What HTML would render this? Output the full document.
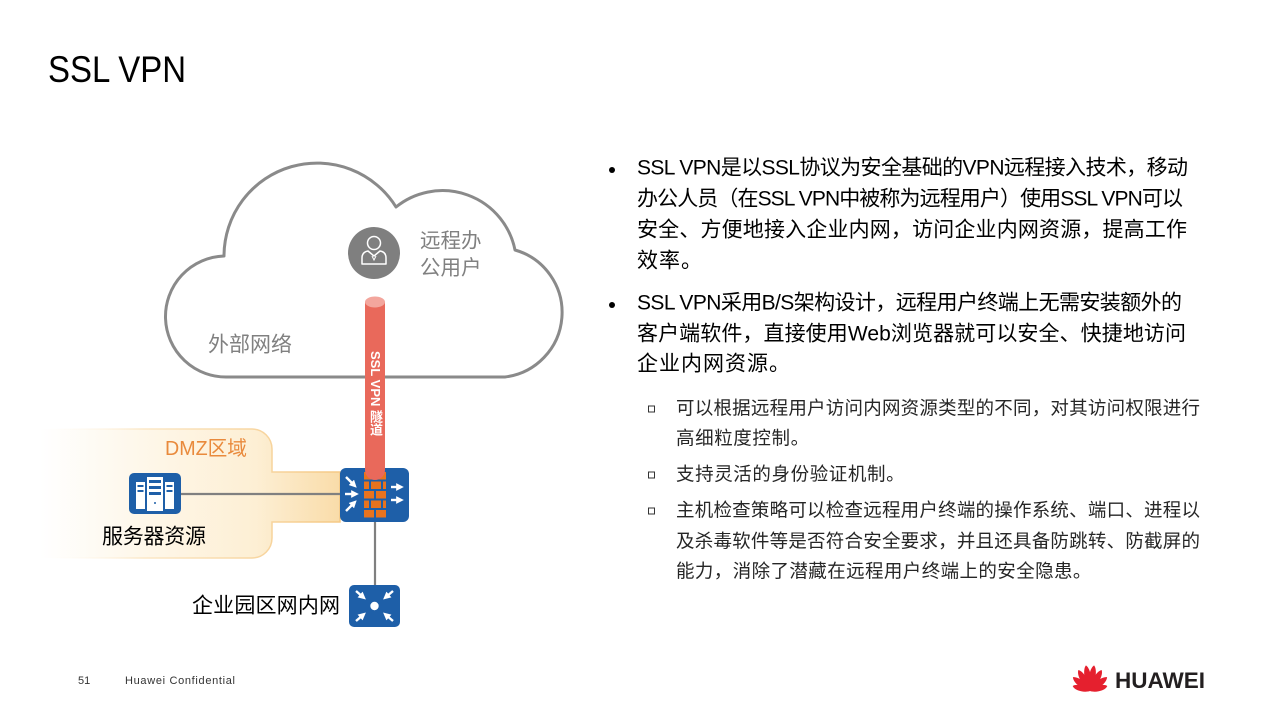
<!DOCTYPE html>
<html>
<head>
<meta charset="utf-8">
<style>
  html,body{margin:0;padding:0;background:#fff;}
  body{width:1280px;height:720px;overflow:hidden;position:relative;}
  svg{position:absolute;left:0;top:0;}
  .cjk{font-family:"Liberation Sans","Noto Sans CJK SC",sans-serif;}
  #tun{position:absolute;left:365px;top:351px;width:20px;line-height:20px;writing-mode:vertical-rl;
       font-family:"Liberation Sans","Noto Sans CJK SC",sans-serif;font-weight:bold;font-size:13px;color:#fff;text-align:start;white-space:nowrap;}
</style>
</head>
<body>
<svg width="1280" height="720" viewBox="0 0 1280 720" xmlns="http://www.w3.org/2000/svg">
  <defs>
    <linearGradient id="dmzFill" gradientUnits="userSpaceOnUse" x1="40" y1="0" x2="340" y2="0">
      <stop offset="0" stop-color="#ffffff"/>
      <stop offset="0.3" stop-color="#FEF8EC"/>
      <stop offset="0.72" stop-color="#FDEFD4"/>
      <stop offset="1" stop-color="#F9DCA9"/>
    </linearGradient>
    <linearGradient id="dmzStroke" gradientUnits="userSpaceOnUse" x1="40" y1="0" x2="340" y2="0">
      <stop offset="0" stop-color="#ffffff" stop-opacity="0"/>
      <stop offset="0.35" stop-color="#FBE7C6"/>
      <stop offset="1" stop-color="#F5C985"/>
    </linearGradient>
    <clipPath id="userClip"><rect x="400" y="220" width="84" height="70"/></clipPath>
    <marker id="ah" viewBox="0 0 10 10" refX="5" refY="5" markerWidth="3.2" markerHeight="3.2" orient="auto">
      <path d="M0,0 L10,5 L0,10 Z" fill="#fff"/>
    </marker>
  </defs>

  <!-- Title -->
  <text x="48" y="82" font-family="Liberation Sans, sans-serif" font-size="37" fill="#000" textLength="138" lengthAdjust="spacingAndGlyphs">SSL VPN</text>

  <!-- DMZ zone -->
  <path d="M40 429 H252 A20 20 0 0 1 272 449 V472 H340 V522 H272 V538 A20 20 0 0 1 252 558 H40 Z"
        fill="url(#dmzFill)" stroke="url(#dmzStroke)" stroke-width="1.5"/>

  <!-- Cloud -->
  <path d="M228 377 A60 60 0 0 1 224 256 A93 93 0 0 1 396 207 A74 74 0 0 1 515 250 A65 65 0 0 1 505 377 Z"
        fill="#fff" stroke="#8a8a8a" stroke-width="3" stroke-linejoin="round"/>

  <!-- cloud labels -->
  <text class="cjk" x="208" y="345" font-size="21" fill="#808080" dominant-baseline="central">外部网络</text>
  <g clip-path="url(#userClip)">
    <text class="cjk" x="420" y="241" font-size="20.5" fill="#808080" dominant-baseline="central">远程办</text>
    <text class="cjk" x="420" y="268" font-size="20.5" fill="#808080" dominant-baseline="central">公用户</text>
  </g>

  <!-- user icon -->
  <circle cx="374" cy="253" r="26" fill="#7f7f7f"/>
  <circle cx="374" cy="243" r="6.5" fill="none" stroke="#fff" stroke-width="1.5"/>
  <path d="M362 264 V258 Q362 252 368 251 L374 256 L380 251 Q386 252 386 258 V264 Z" fill="none" stroke="#fff" stroke-width="1.5" stroke-linejoin="round"/>
  <path d="M372 256 L374 260 L376 256" fill="none" stroke="#fff" stroke-width="1"/>

  <!-- connectors -->
  <line x1="181" y1="494" x2="340" y2="494" stroke="#808080" stroke-width="2.2"/>
  <line x1="375" y1="522" x2="375" y2="586" stroke="#808080" stroke-width="2.2"/>

  <!-- server icon -->
  <rect x="129" y="473" width="52" height="41" rx="5" fill="#1E5FA8"/>
  <rect x="147" y="477" width="16" height="34" fill="#fff"/>
  <rect x="149" y="480" width="12" height="3" fill="#1E5FA8"/>
  <rect x="149" y="486" width="12" height="3" fill="#1E5FA8"/>
  <rect x="149" y="492" width="12" height="3" fill="#1E5FA8"/>
  <rect x="136" y="482" width="9" height="27" fill="#fff"/>
  <rect x="137.5" y="485" width="6" height="2" fill="#1E5FA8"/>
  <rect x="137.5" y="490" width="6" height="2" fill="#1E5FA8"/>
  <rect x="165" y="482" width="9" height="27" fill="#fff"/>
  <rect x="166.5" y="485" width="6" height="2" fill="#1E5FA8"/>
  <rect x="166.5" y="490" width="6" height="2" fill="#1E5FA8"/>
  <circle cx="155" cy="503" r="1" fill="#1E5FA8"/>

  <!-- firewall -->
  <rect x="340" y="468" width="69" height="54" rx="6" fill="#1E5FA8"/>
  <g fill="#E8731E">
    <rect x="364" y="472" width="10" height="7.5"/><rect x="376" y="472" width="10" height="7.5"/>
    <rect x="364" y="481.5" width="5" height="7.5"/><rect x="371" y="481.5" width="10" height="7.5"/><rect x="383" y="481.5" width="3" height="7.5"/>
    <rect x="364" y="491" width="10" height="7.5"/><rect x="376" y="491" width="10" height="7.5"/>
    <rect x="364" y="500.5" width="5" height="7.5"/><rect x="371" y="500.5" width="10" height="7.5"/><rect x="383" y="500.5" width="3" height="7.5"/>
    <rect x="364" y="510" width="10" height="7.5"/><rect x="376" y="510" width="10" height="7.5"/>
  </g>
  <g stroke="#fff" stroke-width="2.4" marker-end="url(#ah)">
    <line x1="346" y1="477" x2="354" y2="485"/>
    <line x1="345" y1="494" x2="355" y2="494"/>
    <line x1="346" y1="511" x2="354" y2="503"/>
    <line x1="391" y1="487" x2="400" y2="487"/>
    <line x1="391" y1="500" x2="400" y2="500"/>
  </g>

  <!-- tunnel -->
  <path d="M365 302 V470 A10 10 0 0 0 385 470 V302 Z" fill="#E9695B"/>
  <ellipse cx="375" cy="302" rx="10" ry="5.5" fill="#F3A69D"/>

  <!-- switch -->
  <rect x="349" y="585" width="51" height="42" rx="5" fill="#1E5FA8"/>
  <circle cx="374.5" cy="606" r="4.2" fill="#fff"/>
  <g stroke="#fff" stroke-width="2.4" marker-end="url(#ah)">
    <line x1="356" y1="591" x2="363" y2="597"/>
    <line x1="393" y1="591" x2="386" y2="597"/>
    <line x1="356" y1="621" x2="363" y2="615"/>
    <line x1="393" y1="621" x2="386" y2="615"/>
  </g>

  <!-- DMZ labels -->
  <text class="cjk" x="165" y="449" font-size="20" fill="#E98A3C" dominant-baseline="central" textLength="82" lengthAdjust="spacingAndGlyphs">DMZ区域</text>
  <text class="cjk" x="102" y="537" font-size="21" fill="#000" dominant-baseline="central" textLength="104" lengthAdjust="spacing">服务器资源</text>
  <text class="cjk" x="192" y="606" font-size="21" fill="#000" dominant-baseline="central" textLength="148" lengthAdjust="spacing">企业园区网内网</text>

  <!-- Right text -->
  <g class="cjk" font-size="21" fill="#000" dominant-baseline="central">
    <circle cx="612" cy="170" r="3" fill="#000"/>
    <text x="637" y="168" textLength="551" lengthAdjust="spacing">SSL VPN是以SSL协议为安全基础的VPN远程接入技术，移动</text>
    <text x="637" y="199" textLength="546" lengthAdjust="spacing">办公人员（在SSL VPN中被称为远程用户）使用SSL  VPN可以</text>
    <text x="637" y="230" textLength="550" lengthAdjust="spacing">安全、方便地接入企业内网，访问企业内网资源，提高工作</text>
    <text x="637" y="261" letter-spacing="1">效率。</text>
    <circle cx="612" cy="305" r="3" fill="#000"/>
    <text x="637" y="303" textLength="545" lengthAdjust="spacing">SSL VPN采用B/S架构设计，远程用户终端上无需安装额外的</text>
    <text x="637" y="334" textLength="549" lengthAdjust="spacing">客户端软件，直接使用Web浏览器就可以安全、快捷地访问</text>
    <text x="637" y="364" letter-spacing="1">企业内网资源。</text>
  </g>
  <g class="cjk" font-size="18.5" fill="#262626" dominant-baseline="central">
    <rect x="648.5" y="406" width="6" height="6" fill="none" stroke="#333" stroke-width="1"/>
    <text x="676" y="408" textLength="524" lengthAdjust="spacing">可以根据远程用户访问内网资源类型的不同，对其访问权限进行</text>
    <text x="676" y="438" letter-spacing="0.6">高细粒度控制。</text>
    <rect x="648.5" y="472" width="6" height="6" fill="none" stroke="#333" stroke-width="1"/>
    <text x="676" y="474" letter-spacing="0.6">支持灵活的身份验证机制。</text>
    <rect x="648.5" y="508" width="6" height="6" fill="none" stroke="#333" stroke-width="1"/>
    <text x="676" y="510" textLength="524" lengthAdjust="spacing">主机检查策略可以检查远程用户终端的操作系统、端口、进程以</text>
    <text x="676" y="541" textLength="524" lengthAdjust="spacing">及杀毒软件等是否符合安全要求，并且还具备防跳转、防截屏的</text>
    <text x="676" y="571" letter-spacing="0.4">能力，消除了潜藏在远程用户终端上的安全隐患。</text>
  </g>

  <!-- Footer -->
  <text x="78" y="684" font-family="Liberation Sans, sans-serif" font-size="11" fill="#333">51</text>
  <text x="125" y="684" font-family="Liberation Sans, sans-serif" font-size="11" fill="#333" textLength="110" lengthAdjust="spacing">Huawei Confidential</text>

  <!-- Huawei logo -->
  <g fill="#E5202E">
    <path d="M0 0 C-4 -8 -4.5 -22 0 -26 C4.5 -22 4 -8 0 0 Z" transform="translate(1090,691) rotate(-9)"/>
    <path d="M0 0 C-4 -8 -4.5 -22 0 -26 C4.5 -22 4 -8 0 0 Z" transform="translate(1090,691) rotate(9)"/>
    <path d="M0 0 C-4 -7 -4.5 -20 0 -24 C4.5 -20 4 -7 0 0 Z" transform="translate(1090,691) rotate(-29)"/>
    <path d="M0 0 C-4 -7 -4.5 -20 0 -24 C4.5 -20 4 -7 0 0 Z" transform="translate(1090,691) rotate(29)"/>
    <path d="M0 0 C-4 -6 -4.5 -18 0 -22 C4.5 -18 4 -6 0 0 Z" transform="translate(1090,691) rotate(-51)"/>
    <path d="M0 0 C-4 -6 -4.5 -18 0 -22 C4.5 -18 4 -6 0 0 Z" transform="translate(1090,691) rotate(51)"/>
    <path d="M0 0 C-3.5 -5 -4 -15 0 -18 C4 -15 3.5 -5 0 0 Z" transform="translate(1090,691) rotate(-74)"/>
    <path d="M0 0 C-3.5 -5 -4 -15 0 -18 C4 -15 3.5 -5 0 0 Z" transform="translate(1090,691) rotate(74)"/>
  </g>
  <text x="1115" y="688" font-family="Liberation Sans, sans-serif" font-weight="bold" font-size="22.5" fill="#231F20" textLength="90" lengthAdjust="spacingAndGlyphs">HUAWEI</text>
</svg>
<div id="tun">SSL VPN 隧道</div>
</body>
</html>
